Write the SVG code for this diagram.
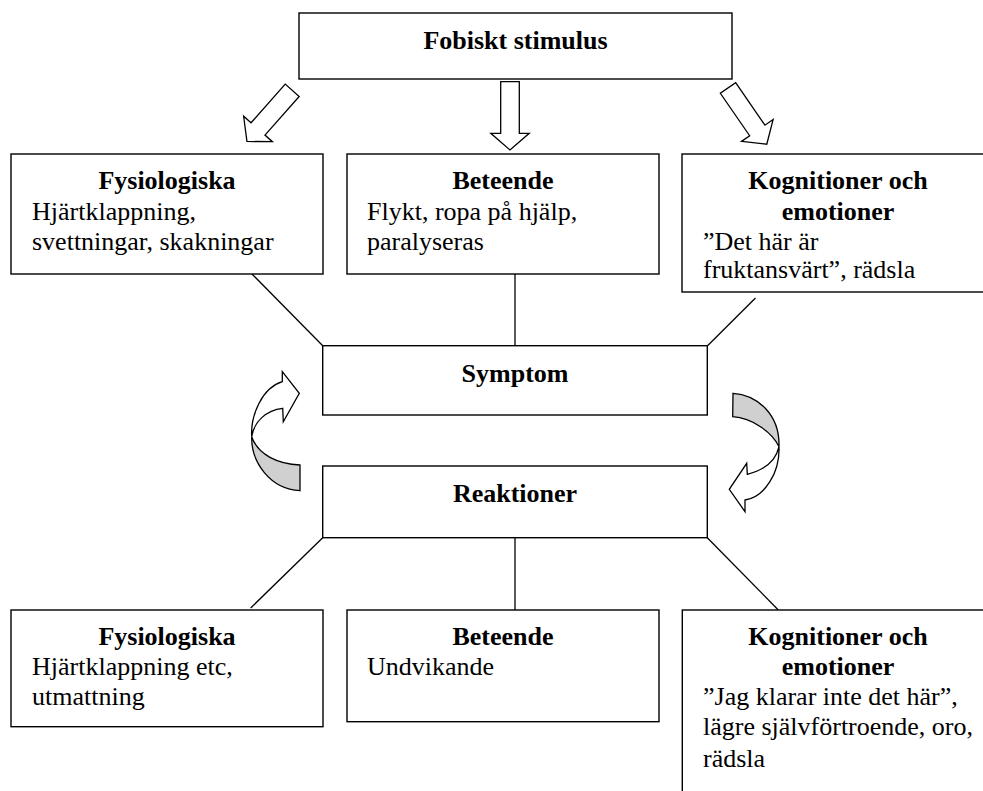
<svg xmlns="http://www.w3.org/2000/svg" xmlns:xlink="http://www.w3.org/1999/xlink" width="983" height="791" viewBox="0 0 983 791">
<style>
  .box{fill:#fff;stroke:#000;stroke-width:1.4}
  .ln{fill:none;stroke:#000;stroke-width:1.3}
  .arr{fill:#fff;stroke:#000;stroke-width:1.3;stroke-linejoin:miter}
  .gray{fill:#d0d0d0;stroke:#000;stroke-width:1.3}
  text{font-family:"Liberation Serif","Times New Roman",serif;font-size:26px;fill:#000}
  .b{font-weight:bold;text-anchor:middle}
</style>
<defs>
  <polygon id="blk" points="0,-9.3 51.6,-9.3 51.6,-19.2 68.3,0 51.6,19.2 51.6,9.3 0,9.3"/>
</defs>
<rect width="983" height="791" fill="#fff"/>
<g id="connectors">
  <use xlink:href="#blk" class="arr" transform="translate(292.2,90.3) rotate(131.5)"/>
  <use xlink:href="#blk" class="arr" transform="translate(510,81.7) rotate(90)"/>
  <use xlink:href="#blk" class="arr" transform="translate(728,88) rotate(55.4)"/>
  <line class="ln" x1="252" y1="274" x2="323" y2="346"/>
  <line class="ln" x1="515" y1="274" x2="515" y2="346"/>
  <line class="ln" x1="755.5" y1="298" x2="707.3" y2="346"/>
  <line class="ln" x1="322.7" y1="537.7" x2="250.7" y2="608"/>
  <line class="ln" x1="515" y1="537.7" x2="515" y2="610"/>
  <line class="ln" x1="707.3" y1="537.7" x2="778.3" y2="610"/>
  <g id="curved-left">
    <path class="gray" d="M251.7,436.7 C251,462 270,489 300,490.7 L300,465 C278,464 258,455 251.7,436.7 Z"/>
    <path class="arr" d="M282.7,408.3 C266,410 254,422 251.7,436.7 C250.5,415 262,388 282.3,381.7 L282.3,371.7 L299.3,393.3 L283.3,421.7 Z"/>
  </g>
  <g id="curved-right">
    <path class="gray" d="M733,393.3 C758,395 780,415 779,446.7 C772,432 752,418 732.7,416.7 Z"/>
    <path class="arr" d="M779,446.7 C780,472 765,497 745,500 L745,511.7 L729.3,489.3 L746.7,463.3 L747.3,474.3 C765,470 776,460 779,446.7 Z"/>
  </g>
</g>
<g id="stimulus">
  <rect class="box" x="299" y="13" width="433" height="66"/>
  <text class="b" x="515.5" y="49">Fobiskt stimulus</text>
</g>
<g id="fys1">
  <rect class="box" x="11" y="154" width="312" height="120"/>
  <text class="b" x="167" y="189">Fysiologiska</text>
  <text x="32" y="220">Hjärtklappning,</text>
  <text x="32" y="250">svettningar, skakningar</text>
</g>
<g id="bet1">
  <rect class="box" x="347" y="154" width="312" height="120"/>
  <text class="b" x="503" y="189">Beteende</text>
  <text x="367" y="220">Flykt, ropa på hjälp,</text>
  <text x="367" y="250">paralyseras</text>
</g>
<g id="kog1">
  <rect class="box" x="682" y="154" width="312" height="138"/>
  <text class="b" x="838" y="189">Kognitioner och</text>
  <text class="b" x="838" y="220">emotioner</text>
  <text x="703" y="250">”Det här är</text>
  <text x="703" y="278">fruktansvärt”, rädsla</text>
</g>
<g id="symptom">
  <rect class="box" x="322.7" y="345.7" width="384.6" height="69.3"/>
  <text class="b" x="515" y="381.5">Symptom</text>
</g>
<g id="reaktioner">
  <rect class="box" x="322.7" y="466" width="384.6" height="71.7"/>
  <text class="b" x="515" y="501.7">Reaktioner</text>
</g>
<g id="fys2">
  <rect class="box" x="11" y="610" width="312" height="116.7"/>
  <text class="b" x="167" y="645">Fysiologiska</text>
  <text x="32" y="675">Hjärtklappning etc,</text>
  <text x="32" y="705">utmattning</text>
</g>
<g id="bet2">
  <rect class="box" x="347" y="610" width="312" height="111.7"/>
  <text class="b" x="503" y="645">Beteende</text>
  <text x="367" y="675">Undvikande</text>
</g>
<g id="kog2">
  <rect class="box" x="682.3" y="610" width="312" height="200"/>
  <text class="b" x="838" y="645">Kognitioner och</text>
  <text class="b" x="838" y="675">emotioner</text>
  <text x="703" y="705">”Jag klarar inte det här”,</text>
  <text x="703" y="735">lägre självförtroende, oro,</text>
  <text x="703" y="766.7">rädsla</text>
</g>
</svg>
